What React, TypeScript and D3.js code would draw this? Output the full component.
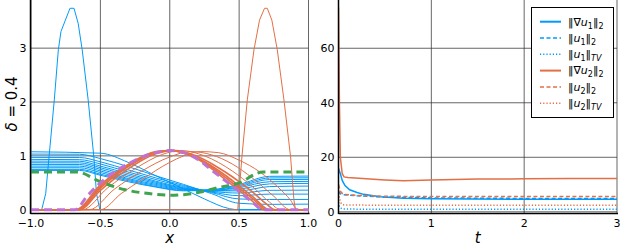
import * as d3 from 'd3';

const W = 623;
const H = 249;

// ticks
const xTicks = [-1, -0.5, 0, 0.5, 1];
const xTickLabels = ['−1.0', '−0.5', '0.0', '0.5', '1.0'];
const yTicksL = [0, 1, 2, 3];
const tTicks = [0, 1, 2, 3];
const yTicksR = [0, 20, 40, 60];

// left panel: u1 profiles on a shared grid
const u1Grid = [-1, -0.65, -0.5, -0.3, -0.1, 0.1, 0.3, 0.5, 0.72, 1];
const u1Profiles = [
  [1.033, 1.03, 0.95, 0.8, 0.63, 0.47, 0.3, 0.12, 0.1, 0.104],
  [0.972, 0.97, 0.89, 0.74, 0.59, 0.45, 0.32, 0.2, 0.19, 0.191],
  [0.935, 0.93, 0.85, 0.7, 0.56, 0.43, 0.33, 0.26, 0.29, 0.29],
  [0.903, 0.9, 0.81, 0.67, 0.53, 0.41, 0.34, 0.31, 0.36, 0.364],
  [0.872, 0.87, 0.78, 0.64, 0.51, 0.4, 0.35, 0.35, 0.43, 0.439],
  [0.842, 0.84, 0.75, 0.61, 0.49, 0.39, 0.35, 0.38, 0.48, 0.489],
  [0.81, 0.81, 0.72, 0.58, 0.47, 0.38, 0.36, 0.41, 0.52, 0.526],
  [0.779, 0.78, 0.69, 0.56, 0.45, 0.37, 0.36, 0.43, 0.56, 0.563],
  [0.749, 0.75, 0.66, 0.54, 0.43, 0.36, 0.37, 0.45, 0.59, 0.593],
  [0.73, 0.73, 0.64, 0.52, 0.42, 0.35, 0.37, 0.47, 0.62, 0.625],
];
const u1Init: [number, number][] = [
  [-1, 0], [-0.923, 0], [-0.894, 0.3], [-0.87, 0.98], [-0.832, 2.04], [-0.803, 2.97],
  [-0.784, 3.31], [-0.719, 3.74], [-0.69, 3.74], [-0.66, 3.46], [-0.631, 2.97],
  [-0.588, 2.04], [-0.547, 0.98], [-0.528, 0.3], [-0.504, 0], [1, 0],
];
const u1Early: [number, number][] = [
  [-1, 1.076], [-0.5, 1.05], [-0.3, 0.88], [-0.1, 0.63], [0.05, 0.45], [0.25, 0.2],
  [0.43, 0.02], [0.5, 0], [1, 0],
];
const u2Init: [number, number][] = [
  [-1, 0], [0.49, 0], [0.52, 0.98], [0.559, 2.04], [0.607, 2.97], [0.647, 3.52],
  [0.683, 3.74], [0.703, 3.74], [0.736, 3.52], [0.775, 2.97], [0.823, 2.04],
  [0.871, 0.98], [0.895, 0.18], [0.906, 0], [1, 0],
];
const u2Profiles: [number, number][][] = [
  [[-1, 0], [-0.5, 0], [-0.35, 0.3], [-0.2, 0.56], [0, 0.88], [0.1, 1.0], [0.22, 1.08], [0.35, 1.06], [0.5, 0.92], [0.65, 0.7], [0.78, 0.42], [0.87, 0.18], [0.92, 0], [1, 0]],
  [[-1, 0], [-0.58, 0], [-0.4, 0.38], [-0.2, 0.72], [0, 0.98], [0.15, 1.08], [0.3, 1.02], [0.45, 0.85], [0.6, 0.58], [0.75, 0.25], [0.87, 0], [1, 0]],
  [[-1, 0], [-0.63, 0], [-0.45, 0.4], [-0.25, 0.76], [-0.05, 1.03], [0.08, 1.1], [0.25, 1.0], [0.45, 0.72], [0.6, 0.42], [0.72, 0.14], [0.8, 0], [1, 0]],
  [[-1, 0], [-0.65, 0], [-0.5, 0.36], [-0.3, 0.76], [-0.1, 1.04], [0.04, 1.1], [0.2, 0.99], [0.4, 0.7], [0.5, 0.52], [0.6, 0.32], [0.7, 0.1], [0.76, 0], [1, 0]],
  [[-1, 0], [-0.66, 0], [-0.5, 0.4], [-0.3, 0.8], [-0.1, 1.06], [0.02, 1.1], [0.2, 0.96], [0.4, 0.64], [0.5, 0.44], [0.6, 0.24], [0.72, 0], [1, 0]],
  [[-1, 0], [-0.67, 0], [-0.5, 0.43], [-0.3, 0.82], [-0.1, 1.07], [0, 1.1], [0.2, 0.95], [0.4, 0.6], [0.5, 0.4], [0.6, 0.2], [0.7, 0], [1, 0]],
  [[-1, 0], [-0.68, 0], [-0.5, 0.46], [-0.3, 0.84], [-0.1, 1.08], [0, 1.1], [0.2, 0.94], [0.4, 0.56], [0.5, 0.36], [0.6, 0.15], [0.68, 0], [1, 0]],
];
const u1Steady: [number, number][] = [
  [-1, 0.7], [-0.67, 0.7], [-0.5, 0.52], [-0.32, 0.37], [-0.15, 0.3], [0, 0.27], [0.1, 0.28],
  [0.22, 0.33], [0.35, 0.41], [0.5, 0.5], [0.67, 0.7], [1, 0.7],
];
const u2Steady: [number, number][] = [
  [-1, 0], [-0.68, 0], [-0.6, 0.24], [-0.5, 0.5], [-0.4, 0.7], [-0.3, 0.85], [-0.2, 0.98],
  [-0.1, 1.06], [0, 1.1], [0.1, 1.06], [0.2, 0.94], [0.3, 0.74], [0.4, 0.54], [0.5, 0.34],
  [0.6, 0.13], [0.67, 0], [1, 0],
];

// right panel: norms over time
const gradU1: [number, number][] = [
  [0, 16], [0.02, 14], [0.04, 11.5], [0.07, 9.6], [0.12, 8.1], [0.2, 7.1], [0.27, 6.4],
  [0.45, 5.5], [0.7, 5.0], [1, 4.8], [2, 4.6], [3, 4.6],
];
const normU1: [number, number][] = [
  [0, 7.5], [0.02, 6.6], [0.05, 6.3], [0.2, 5.9], [0.5, 5.4], [1, 5.1], [2, 4.9], [3, 4.9],
];
const tvU1: [number, number][] = [
  [0, 3.5], [0.01, 2], [0.02, 1.4], [0.05, 1.0], [1, 0.9], [3, 0.9],
];
const gradU2: [number, number][] = [
  [0, 75], [0.01, 40], [0.02, 20], [0.04, 14], [0.06, 12.8], [0.1, 12.6], [0.3, 12.1],
  [0.5, 11.7], [0.7, 11.4], [1, 11.7], [1.5, 12], [2, 12.1], [2.5, 12.2], [3, 12.2],
];
const normU2: [number, number][] = [
  [0, 10], [0.02, 7.5], [0.05, 6.4], [0.2, 6.0], [0.5, 5.7], [1, 5.6], [2, 5.6], [3, 5.6],
];
const tvU2: [number, number][] = [
  [0, 8], [0.01, 5], [0.03, 3], [0.06, 2.5], [0.5, 2.4], [1, 2.4], [3, 2.4],
];

const BLUE = '#009AFA';
const ORANGE = '#E36F47';
const GREEN = '#3EA44E';
const PURPLE = '#C271D2';
const FONT = 'DejaVu Sans, sans-serif';

const L = { left: 30.5, right: 308.5, top: 0, bottom: 213.5 };
const R = { left: 338.5, right: 617, top: 0, bottom: 213.5 };

export default function App() {
  const x = d3.scaleLinear().domain([-1, 1]).range([L.left + 0.5, L.right]);
  const yL = d3.scaleLinear().domain([-0.07, 3.894]).range([L.bottom, L.top]);
  const t = d3.scaleLinear().domain([0, 3]).range([R.left, R.right]);
  const yR = d3.scaleLinear().domain([-0.62, 77.7]).range([R.bottom, R.top]);

  const lineL = d3.line<[number, number]>().x((d) => x(d[0])).y((d) => yL(d[1]));
  const smoothL = d3
    .line<[number, number]>()
    .x((d) => x(d[0]))
    .y((d) => yL(d[1]))
    .curve(d3.curveMonotoneX);
  const lineR = d3.line<[number, number]>().x((d) => t(d[0])).y((d) => yR(d[1]));

  const profiles = u1Profiles.map((vals) => vals.map((v, i) => [u1Grid[i], v] as [number, number]));

  const legendItems = [
    { color: BLUE, dash: undefined, w: 2, sub: '1', kind: 'grad' },
    { color: BLUE, dash: '4,2.5', w: 1.5, sub: '1', kind: 'l2' },
    { color: BLUE, dash: '1.2,2', w: 1.5, sub: '1', kind: 'tv' },
    { color: ORANGE, dash: undefined, w: 2, sub: '2', kind: 'grad' },
    { color: ORANGE, dash: '4,2.5', w: 1.5, sub: '2', kind: 'l2' },
    { color: ORANGE, dash: '1.2,2', w: 1.5, sub: '2', kind: 'tv' },
  ];

  const gridStroke = '#333';

  return (
    <svg
      width={W}
      height={H}
      style={{ position: 'fixed', left: 0, top: 0, background: '#fff' }}
      fontFamily={FONT}
    >
      <defs>
        <clipPath id="clipL">
          <rect x={L.left} y={L.top} width={L.right - L.left + 1} height={L.bottom - L.top} />
        </clipPath>
        <clipPath id="clipR">
          <rect x={R.left} y={R.top} width={R.right - R.left + 2} height={R.bottom - R.top} />
        </clipPath>
      </defs>
      <rect width={W} height={H} fill="#fff" />

      {/* left grid */}
      <g stroke={gridStroke} strokeWidth={1} strokeOpacity={0.75}>
        {xTicks.map((v) => (
          <line key={'gx' + v} x1={x(v)} x2={x(v)} y1={L.top} y2={L.bottom} />
        ))}
        {yTicksL.map((v) => (
          <line key={'gy' + v} x1={L.left} x2={L.right} y1={yL(v)} y2={yL(v)} />
        ))}
      </g>

      {/* left series */}
      <g clipPath="url(#clipL)" fill="none">
        <path d={lineL(u1Init) || ''} stroke={BLUE} strokeWidth={1} />
        <path d={smoothL(u1Early) || ''} stroke={BLUE} strokeWidth={1} />
        {profiles.map((p, i) => (
          <path key={'b' + i} d={smoothL(p) || ''} stroke={BLUE} strokeWidth={1} />
        ))}
        <path d={lineL(u2Init) || ''} stroke={ORANGE} strokeWidth={1} />
        {u2Profiles.map((p, i) => (
          <path key={'o' + i} d={smoothL(p) || ''} stroke={ORANGE} strokeWidth={i > 2 ? 1.6 : 1} />
        ))}
        <path d={smoothL(u1Steady) || ''} stroke={GREEN} strokeWidth={3} strokeDasharray="8,5" />
        <path d={smoothL(u2Steady) || ''} stroke={PURPLE} strokeWidth={3} strokeDasharray="8,5" />
      </g>

      {/* left axes */}
      <line x1={L.left} x2={L.left} y1={L.top} y2={L.bottom + 0.5} stroke="#000" strokeWidth={1.5} />
      <line x1={L.left} x2={L.right + 1} y1={L.bottom} y2={L.bottom} stroke="#000" strokeWidth={1.5} />
      <g fontSize={11} fill="#000">
        {yTicksL.map((v) => (
          <text key={'ly' + v} x={L.left - 4} y={yL(v)} dy="0.35em" textAnchor="end">
            {v}
          </text>
        ))}
        {xTicks.map((v, i) => (
          <text key={'lx' + v} x={x(v)} y={227} textAnchor="middle">
            {xTickLabels[i]}
          </text>
        ))}
      </g>
      <text x={x(0)} y={243} fontSize={15} fontStyle="italic" textAnchor="middle">
        x
      </text>
      <text transform="translate(17,104) rotate(-90)" fontSize={15} textAnchor="middle">
        <tspan fontStyle="italic">δ</tspan> = 0.4
      </text>

      {/* right grid */}
      <g stroke={gridStroke} strokeWidth={1} strokeOpacity={0.75}>
        {tTicks.map((v) => (
          <line key={'gt' + v} x1={t(v)} x2={t(v)} y1={R.top} y2={R.bottom} />
        ))}
        {yTicksR.map((v) => (
          <line key={'gr' + v} x1={R.left} x2={R.right} y1={yR(v)} y2={yR(v)} />
        ))}
      </g>

      {/* right series */}
      <g clipPath="url(#clipR)" fill="none">
        <path d={lineR(gradU1) || ''} stroke={BLUE} strokeWidth={1.5} />
        <path d={lineR(normU1) || ''} stroke={BLUE} strokeWidth={1.5} strokeDasharray="4,2.5" />
        <path d={lineR(tvU1) || ''} stroke={BLUE} strokeWidth={1.5} strokeDasharray="1.2,2" />
        <path d={lineR(gradU2) || ''} stroke={ORANGE} strokeWidth={1.5} />
        <path d={lineR(normU2) || ''} stroke={ORANGE} strokeWidth={1.5} strokeDasharray="4,2.5" />
        <path d={lineR(tvU2) || ''} stroke={ORANGE} strokeWidth={1.5} strokeDasharray="1.2,2" />
      </g>

      {/* right axes */}
      <line x1={R.left} x2={R.left} y1={R.top} y2={R.bottom + 0.5} stroke="#000" strokeWidth={1.5} />
      <line x1={R.left} x2={R.right + 1} y1={R.bottom} y2={R.bottom} stroke="#000" strokeWidth={1.5} />
      <g fontSize={11} fill="#000">
        {yTicksR.map((v) => (
          <text key={'ry' + v} x={R.left - 4} y={yR(v)} dy="0.35em" textAnchor="end">
            {v}
          </text>
        ))}
        {tTicks.map((v) => (
          <text key={'rt' + v} x={t(v)} y={227} textAnchor="middle">
            {v}
          </text>
        ))}
      </g>
      <text x={t(1.5)} y={243} fontSize={15} fontStyle="italic" textAnchor="middle">
        t
      </text>

      {/* legend */}
      <g>
        <rect x={531.5} y={7.5} width={82} height={110} fill="#fff" stroke="#000" strokeWidth={1} />
        {legendItems.map((it, i) => {
          const cy = 21.7 + i * 16.3;
          return (
            <g key={'lg' + i}>
              <line
                x1={540}
                x2={561}
                y1={cy}
                y2={cy}
                stroke={it.color}
                strokeWidth={it.w}
                strokeDasharray={it.dash}
              />
              <text x={568} y={cy} dy="0.35em" fontSize={11}>
                {it.kind === 'grad' ? '‖∇' : '‖'}
                <tspan fontStyle="italic">u</tspan>
                <tspan fontSize={8} dy={3}>
                  {it.sub}
                </tspan>
                <tspan dy={-3}>‖</tspan>
                <tspan fontSize={8} dy={3} fontStyle={it.kind === 'tv' ? 'italic' : 'normal'}>
                  {it.kind === 'tv' ? 'TV' : '2'}
                </tspan>
              </text>
            </g>
          );
        })}
      </g>
    </svg>
  );
}
